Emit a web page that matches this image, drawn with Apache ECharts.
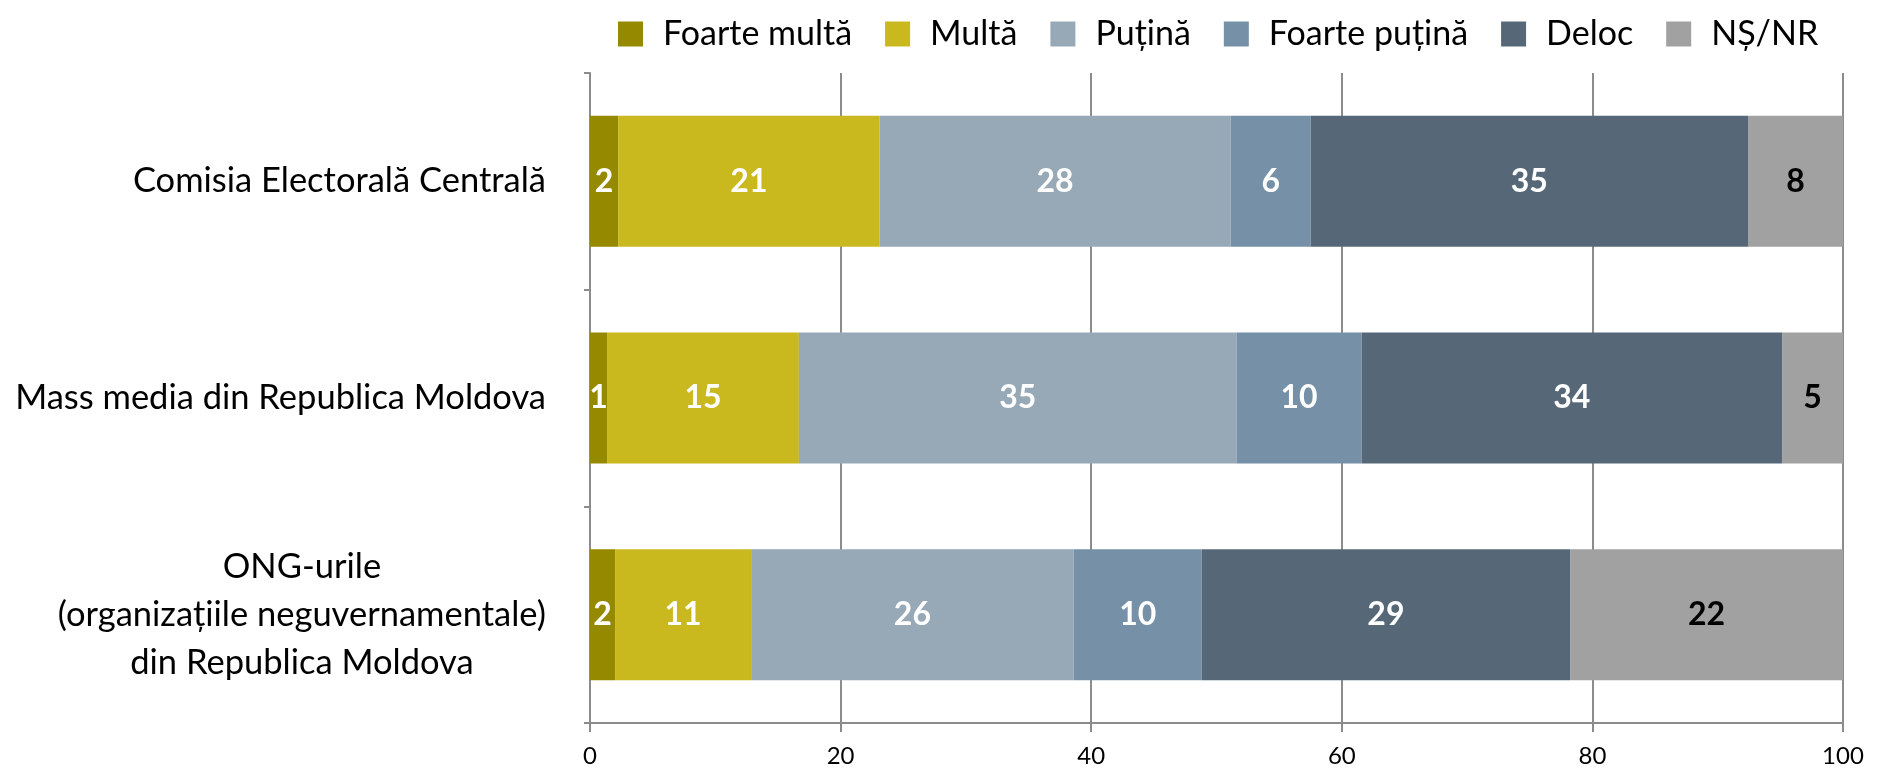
<!DOCTYPE html>
<html>
<head>
<meta charset="utf-8">
<script src="https://cdn.jsdelivr.net/npm/echarts@6/dist/echarts.min.js"></script>
<style>
  html, body { margin: 0; padding: 0; background: #fff; }
  #chart { width: 1883px; height: 768px; }
</style>
</head>
<body>
<div id="chart"></div>
<script>
// categorii (de sus in jos)
let categories = [
  'Comisia Electorală Centrală',
  'Mass media din Republica Moldova',
  'ONG-urile\n(organizațiile neguvernamentale)\ndin Republica Moldova'
];

let seriesNames = ['Foarte multă', 'Multă', 'Puțină', 'Foarte puțină', 'Deloc', 'NȘ/NR'];

// valori (%)
let foarteMulta = [2.25, 1.36, 2.0];
let multa = [20.86, 15.31, 10.86];
let putina = [28.02, 34.93, 25.74];
let foartePutina = [6.39, 9.98, 10.22];
let deloc = [34.90, 33.56, 29.40];
let nsnr = [7.58, 4.86, 21.78];

let xTicks = [0, 20, 40, 60, 80, 100];

let colors = ['#958900', '#C9B81E', '#97A9B7', '#7590A7', '#566878', '#A0A1A0'];
let labelColors = ['#fff', '#fff', '#fff', '#fff', '#fff', '#000'];

let font = 'Lato';
let allValues = [foarteMulta, multa, putina, foartePutina, deloc, nsnr];

let series = seriesNames.map(function (name, i) {
  return {
    name: name,
    type: 'bar',
    stack: 'total',
    barWidth: 131,
    data: allValues[i],
    itemStyle: {color: colors[i]},
    label: {
      show: true,
      position: 'inside',
      color: labelColors[i],
      fontFamily: font,
      fontWeight: 'bold',
      fontSize: 32,
      formatter: function (p) {
        return Math.round(p.value);
      }
    }
  };
});

let option = {
  animation: false,
  color: colors,
  legend: {
    data: seriesNames,
    left: 613,
    top: 12,
    width: 1260,
    itemWidth: 25,
    itemHeight: 25,
    itemGap: 33,
    icon: 'rect',
    textStyle: {
      fontFamily: font,
      fontSize: 34,
      color: '#000',
      padding: [0, 0, 0, 15]
    }
  },
  grid: {
    left: 590,
    right: 40,
    top: 73,
    bottom: 45
  },
  xAxis: {
    type: 'value',
    min: 0,
    max: 100,
    interval: 20,
    axisLine: {show: true, lineStyle: {color: '#8C8C8C', width: 2}},
    axisTick: {show: true, length: 9, lineStyle: {color: '#8C8C8C', width: 2}},
    splitLine: {show: true, lineStyle: {color: '#8C8C8C', width: 2}},
    axisLabel: {
      fontFamily: font,
      fontSize: 24,
      color: '#000',
      margin: 21,
      formatter: function (v) {
        return xTicks.indexOf(v) >= 0 ? String(v) : '';
      }
    }
  },
  yAxis: {
    type: 'category',
    inverse: true,
    data: categories,
    axisLine: {show: true, lineStyle: {color: '#8C8C8C', width: 2}},
    axisTick: {show: true, length: 6, lineStyle: {color: '#8C8C8C', width: 2}},
    axisLabel: {
      margin: 44,
      formatter: function (v) {
        return v.split('\n').map(function (s) {
          return '{c|' + s + '}';
        }).join('\n');
      },
      rich: {
        c: {
          fontFamily: font,
          fontSize: 34.5,
          color: '#000',
          lineHeight: 48,
          align: 'center'
        }
      }
    }
  },
  series: series
};

let myChart = echarts.init(document.getElementById('chart'));
myChart.setOption(option);
</script>
</body>
</html>
